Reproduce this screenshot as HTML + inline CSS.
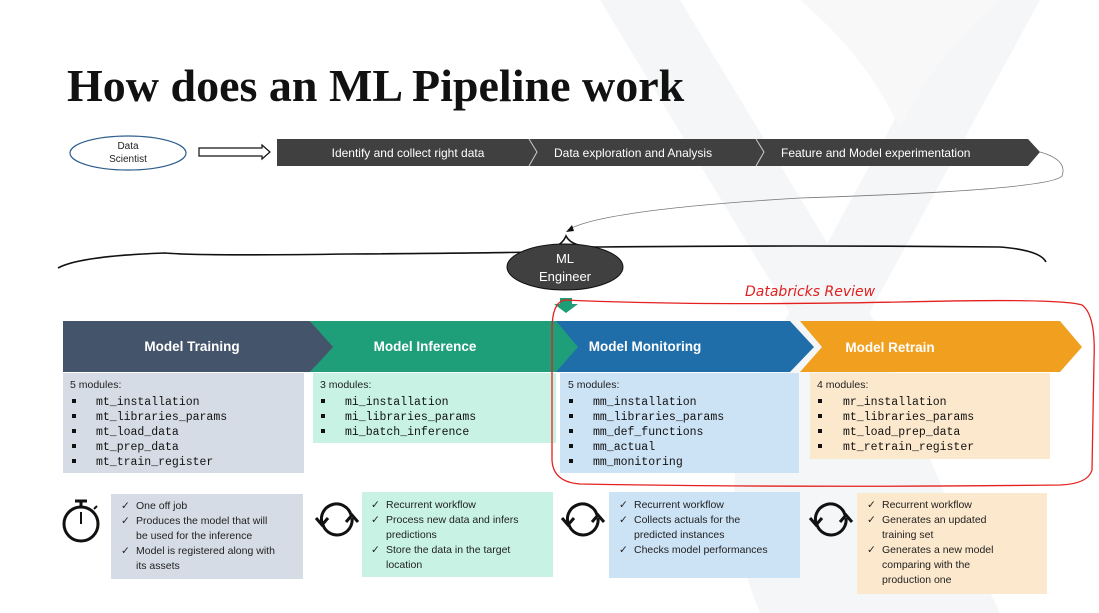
<!DOCTYPE html>
<html><head><meta charset="utf-8"><style>
html,body{margin:0;padding:0;background:#fff;}
svg{display:block;}
.s{font-family:"Liberation Sans",sans-serif;}
.m{font-family:"Liberation Mono",monospace;font-size:11.5px;fill:#111;}
.t{font-family:"Liberation Sans",sans-serif;font-size:10.5px;fill:#222;}
.w{font-family:"Liberation Sans",sans-serif;fill:#fff;}
</style></head><body>
<svg width="1099" height="613" viewBox="0 0 1099 613" xmlns="http://www.w3.org/2000/svg">
<g fill="#f5f6f7">
<polygon points="600,0 680,0 880,330 800,330"/>
<polygon points="960,0 1040,0 860,330 780,330"/>
<path d="M780,330 Q700,470 760,613 L1000,613 Q930,470 880,330 Z"/>
<path d="M800,0 Q870,60 900,130 Q930,60 1000,0 Z" fill="#f8f8f9"/>
</g>
<text x="67" y="101" font-family="Liberation Serif,serif" font-weight="bold" font-size="46" fill="#111">How does an ML Pipeline work</text>
<ellipse cx="128" cy="153" rx="58" ry="17" fill="#fff" stroke="#2e5e8c" stroke-width="1.2"/>
<text class="s" x="128" y="149" font-size="10" text-anchor="middle" fill="#222">Data</text>
<text class="s" x="128" y="162" font-size="10" text-anchor="middle" fill="#222">Scientist</text>
<polygon points="199,148 262,148 262,145 270,152 262,159 262,156 199,156" fill="#fff" stroke="#111" stroke-width="1.2"/>
<polygon points="277,139 1028,139 1040,152 1028,166 277,166" fill="#404040"/>
<polyline points="529,139 537,152 529,166" fill="none" stroke="#ccc" stroke-width="1"/>
<polyline points="756,139 764,152 756,166" fill="none" stroke="#ccc" stroke-width="1"/>
<text class="w" x="408" y="157" font-size="12" text-anchor="middle">Identify and collect right data</text>
<text class="w" x="554" y="157" font-size="12">Data exploration and Analysis</text>
<text class="w" x="781" y="157" font-size="12">Feature and Model experimentation</text>
<path d="M1040,152 Q1068,160 1062,176 Q1050,190 800,198 Q600,210 568,230" fill="none" stroke="#777" stroke-width="0.8"/>
<polygon points="566,232 572,225 574,231" fill="#111"/>
<path d="M58,268 Q80,256 165,253 Q200,256 350,254 Q500,253 530,252 Q560,251 566,236 Q572,248 600,247 Q800,245 1000,247 Q1040,250 1046,262" fill="none" stroke="#111" stroke-width="1.6"/>
<ellipse cx="565" cy="267" rx="58" ry="23" fill="#404040" stroke="#111" stroke-width="1"/>
<text class="w" x="565" y="263" font-size="13" text-anchor="middle">ML</text>
<text class="w" x="565" y="281" font-size="13" text-anchor="middle">Engineer</text>
<polygon points="560,298 572,298 572,304 578,304 566,313 554,304 560,304" fill="#1e9e78"/>
<text x="745" y="296" font-family="DejaVu Sans,sans-serif" font-style="italic" font-size="14" fill="#e02020">Databricks Review</text>
<polygon points="800,321 1060,321 1082,347 1060,372 800,372 822,347" fill="#f0a01e"/>
<polygon points="555,321 790,321 814,347 790,372 555,372 577,347" fill="#1f6ea9"/>
<polygon points="310,321 556,321 578,347 556,372 310,372 332,347" fill="#1f9e7a"/>
<polygon points="63,321 310,321 333,347 310,372 63,372" fill="#44546a"/>
<text class="w" x="192" y="351" font-size="13.5" font-weight="bold" text-anchor="middle">Model Training</text>
<text class="w" x="425" y="351" font-size="13.5" font-weight="bold" text-anchor="middle">Model Inference</text>
<text class="w" x="645" y="351" font-size="13.5" font-weight="bold" text-anchor="middle">Model Monitoring</text>
<text class="w" x="890" y="352" font-size="13.5" font-weight="bold" text-anchor="middle">Model Retrain</text>
<rect x="63" y="373" width="241" height="100" fill="#d6dce5"/>
<rect x="313" y="373" width="243" height="70" fill="#c7f2e4"/>
<rect x="560" y="373" width="239" height="100" fill="#cce2f5"/>
<rect x="810" y="373" width="240" height="86" fill="#fce8cc"/>
<g class="t"><text x="70" y="388">5 modules:</text><text x="320" y="388">3 modules:</text><text x="568" y="388">5 modules:</text><text x="817" y="388">4 modules:</text></g>
<g fill="#111">
<rect x="72" y="399" width="4" height="4"/><rect x="72" y="414" width="4" height="4"/><rect x="72" y="429" width="4" height="4"/><rect x="72" y="444" width="4" height="4"/><rect x="72" y="459" width="4" height="4"/>
<rect x="321" y="399" width="4" height="4"/><rect x="321" y="414" width="4" height="4"/><rect x="321" y="429" width="4" height="4"/>
<rect x="569" y="399" width="4" height="4"/><rect x="569" y="414" width="4" height="4"/><rect x="569" y="429" width="4" height="4"/><rect x="569" y="444" width="4" height="4"/><rect x="569" y="459" width="4" height="4"/>
<rect x="818" y="399" width="4" height="4"/><rect x="818" y="414" width="4" height="4"/><rect x="818" y="429" width="4" height="4"/><rect x="818" y="444" width="4" height="4"/>
</g>
<g class="m">
<text x="96" y="405">mt_installation</text><text x="96" y="420">mt_libraries_params</text><text x="96" y="435">mt_load_data</text><text x="96" y="450">mt_prep_data</text><text x="96" y="465">mt_train_register</text>
<text x="345" y="405">mi_installation</text><text x="345" y="420">mi_libraries_params</text><text x="345" y="435">mi_batch_inference</text>
<text x="593" y="405">mm_installation</text><text x="593" y="420">mm_libraries_params</text><text x="593" y="435">mm_def_functions</text><text x="593" y="450">mm_actual</text><text x="593" y="465">mm_monitoring</text>
<text x="843" y="405">mr_installation</text><text x="843" y="420">mt_libraries_params</text><text x="843" y="435">mt_load_prep_data</text><text x="843" y="450">mt_retrain_register</text>
</g>
<path d="M565,300 Q700,306 900,302 Q1060,298 1082,305 Q1096,315 1094,360 L1092,470 Q1088,484 1060,485 Q800,488 580,484 Q553,482 552,460 L552,330 Q552,302 565,300 Z" fill="none" stroke="#e52020" stroke-width="1.3"/>
<rect x="111" y="494" width="192" height="85" fill="#d6dce5"/>
<rect x="362" y="492" width="191" height="85" fill="#c7f2e4"/>
<rect x="609" y="492" width="191" height="86" fill="#cce2f5"/>
<rect x="857" y="493" width="190" height="101" fill="#fce8cc"/>
<g class="t">
<text x="121" y="509">✓</text><text x="136" y="509">One off job</text>
<text x="121" y="524">✓</text><text x="136" y="524">Produces the model that will</text><text x="136" y="539">be used for the inference</text>
<text x="121" y="554">✓</text><text x="136" y="554">Model is registered along with</text><text x="136" y="569">its assets</text>
<text x="371" y="508">✓</text><text x="386" y="508">Recurrent workflow</text>
<text x="371" y="523">✓</text><text x="386" y="523">Process new data and infers</text><text x="386" y="538">predictions</text>
<text x="371" y="553">✓</text><text x="386" y="553">Store the data in the target</text><text x="386" y="568">location</text>
<text x="619" y="508">✓</text><text x="634" y="508">Recurrent workflow</text>
<text x="619" y="523">✓</text><text x="634" y="523">Collects actuals for the</text><text x="634" y="538">predicted instances</text>
<text x="619" y="553">✓</text><text x="634" y="553">Checks model performances</text>
<text x="867" y="508">✓</text><text x="882" y="508">Recurrent workflow</text>
<text x="867" y="523">✓</text><text x="882" y="523">Generates an updated</text><text x="882" y="538">training set</text>
<text x="867" y="553">✓</text><text x="882" y="553">Generates a new model</text><text x="882" y="568">comparing with the</text><text x="882" y="583">production one</text>
</g>
<g fill="none" stroke="#111" stroke-width="3">
<circle cx="81" cy="524" r="17"/><line x1="81" y1="512" x2="81" y2="524" stroke-width="2"/>
<line x1="75" y1="501" x2="87" y2="501"/><line x1="81" y1="501" x2="81" y2="507"/><line x1="94" y1="509" x2="97" y2="506" stroke-width="2"/>
</g>
<g fill="none" stroke="#111" stroke-width="3">
<g transform="translate(337,520)"><path d="M-15,3 A15,15 0 0 1 14,-5"/><path d="M15,-2 A15,15 0 0 1 -14,5"/><polyline points="-21,-2 -15,5 -9,-2"/><polyline points="9,2 15,-5 21,2"/></g>
<g transform="translate(583,520)"><path d="M-15,3 A15,15 0 0 1 14,-5"/><path d="M15,-2 A15,15 0 0 1 -14,5"/><polyline points="-21,-2 -15,5 -9,-2"/><polyline points="9,2 15,-5 21,2"/></g>
<g transform="translate(831,520)"><path d="M-15,3 A15,15 0 0 1 14,-5"/><path d="M15,-2 A15,15 0 0 1 -14,5"/><polyline points="-21,-2 -15,5 -9,-2"/><polyline points="9,2 15,-5 21,2"/></g>
</g>
</svg>
</body></html>
